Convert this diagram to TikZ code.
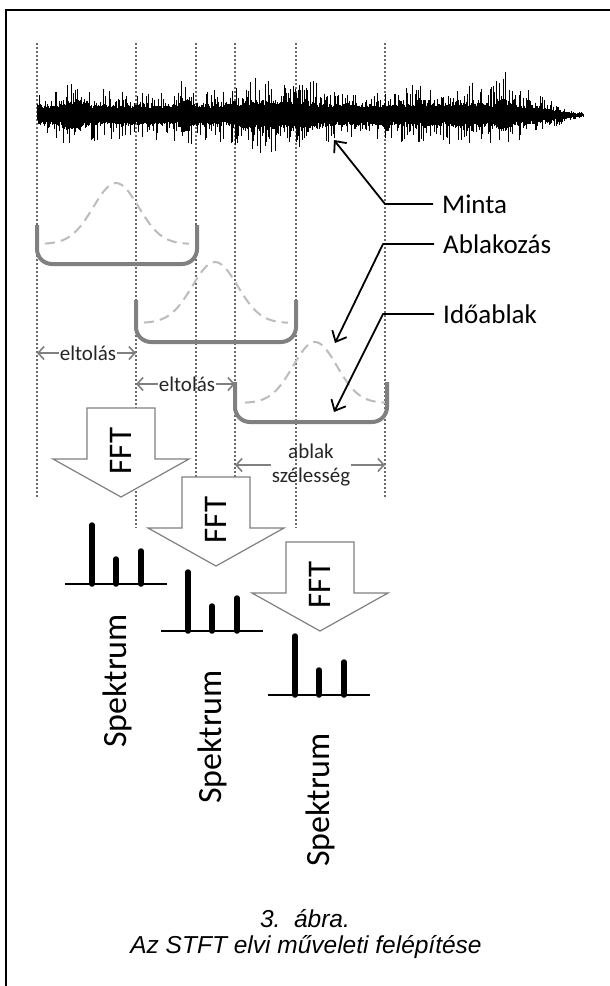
\documentclass[tikz,border=0pt]{standalone}
\usepackage{fontspec}
\setmainfont{Carlito}
\newfontfamily\capfont{Liberation Sans}
\usetikzlibrary{arrows.meta}
\definecolor{wingray}{RGB}{128,128,128}
\definecolor{gausgray}{RGB}{188,188,188}
\definecolor{vgray}{RGB}{105,105,105}
\begin{document}
\begin{tikzpicture}[x=1pt,y=-1pt,
  vline/.style={vgray,line width=2pt,dash pattern=on 2pt off 2pt},
  wavebar/.style={black,line width=1pt},
  winU/.style={wingray,line width=4pt,rounded corners=15pt},
  gauss/.style={gausgray,line width=2pt,dash pattern=on 10pt off 6pt},
  callout/.style={black,line width=1.8pt,line join=round,-{Straight Barb[length=9pt,width=16pt]}},
  shiftarrow/.style={wingray,line width=1.6pt,-{Straight Barb[length=6pt,width=13pt]}},
  fftline/.style={wingray,line width=1.2pt,fill=white},
  lbl/.style={font=\fontsize{27}{30}\selectfont,inner sep=0pt,anchor=west},
  smalltxt/.style={font=\fontsize{21}{24}\selectfont,text=black!85,inner sep=1pt},
  rottext/.style={rotate=90,font=\fontsize{33}{36}\selectfont,inner sep=0pt},
  spektxt/.style={rotate=90,font=\fontsize{34}{36}\selectfont,inner sep=0pt},
  captxt/.style={font={\capfont\itshape\fontsize{24.5}{28}\selectfont},inner sep=0pt},
  specbar/.style={black,line width=5.5pt,line cap=round},
  specbase/.style={black,line width=2.5pt},
  fftarrow/.pic={
    \draw[fftline] (-34,0) -- (34,0) -- (34,51) -- (68,51) -- (0,89) -- (-68,51) -- (-34,51) -- cycle;
    \node[rottext] (-lbl) at (0,43) {FFT};
  },
  spectrum/.pic={
    \draw[specbar] (27,0) -- (27,-59);
    \draw[specbar] (51,0) -- (51,-25);
    \draw[specbar] (76,0) -- (76,-33);
    \draw[specbase] (0,0) -- (102,0);
  }
]
\useasboundingbox (0,0) rectangle (610,986);
\fill[white] (0,0) rectangle (610,986);
% frame
\draw[line width=2pt] (6,986) -- (6,10) -- (610,10);

% dashed verticals
\draw[vline] (37,43) -- (37,497);
\draw[vline] (136,43) -- (136,528);
\draw[vline] (196,43) -- (196,530);
\draw[vline] (235,43) -- (235,530);
\draw[vline] (296,43) -- (296,528);
\draw[vline] (385,43) -- (385,497);

% waveform
\pgfmathsetseed{11}
\foreach \i in {0,...,910}{
  \pgfmathsetmacro\xx{37+0.6*\i}
  \pgfmathsetmacro\env{(0.85 + 0.5*exp(-((\xx-75)/10)^2) + 0.6*exp(-((\xx-186)/6)^2) + 0.4*exp(-((\xx-255)/22)^2) + 0.3*exp(-((\xx-300)/30)^2) + 0.2*exp(-((\xx-420)/20)^2) + 0.3*exp(-((\xx-470)/18)^2) + 0.6*exp(-((\xx-503)/7)^2))*min(1,max(0.2,(585-\xx)/55))*min(1,(\xx-35)/4)}
  \pgfmathsetmacro\up{\env*(7.5+4*rnd+20*rnd^5)}
  \pgfmathsetmacro\dn{\env*(7.5+4*rnd+20*rnd^5)}
  \draw[wavebar] (\xx,115-\up) -- (\xx,115+\dn);
}

% gaussian windows
\draw[gauss] plot[domain=45:189,samples=50,smooth] (\x,{244-61*exp(-((\x-116)/32)^2)});
\draw[gauss] plot[domain=144:288,samples=50,smooth] (\x,{323-61*exp(-((\x-215)/32)^2)});
\draw[gauss] plot[domain=245:385,samples=50,smooth] (\x,{403-61*exp(-((\x-315)/31)^2)});

% time windows
\draw[winU] (37,225) -- (37,264) -- (197,264) -- (197,225);
\draw[winU] (136,300) -- (136,342) -- (296,342) -- (296,300);
\draw[winU] (235,382) -- (235,422) -- (387,422) -- (387,382);

% shift arrows
\node[smalltxt] (elt1) at (88,353) {eltolás};
\coordinate (e1L) at (37,353);
\coordinate (e1R) at (136,353);
\draw[shiftarrow] (elt1.west) -- (e1L);
\draw[shiftarrow] (elt1.east) -- (e1R);
\node[smalltxt] (elt2) at (187,384) {eltolás};
\coordinate (e2L) at (136,384);
\coordinate (e2R) at (235,384);
\draw[shiftarrow] (elt2.west) -- (e2L);
\draw[shiftarrow] (elt2.east) -- (e2R);

% window width
\node[smalltxt,align=center,font=\fontsize{21}{24}\selectfont,inner sep=1pt] (ablak) at (311,465) {ablak\\szélesség};
\coordinate (awL) at (235,465);
\coordinate (awR) at (385,465);
\draw[shiftarrow] (ablak.west) -- (awL);
\draw[shiftarrow] (ablak.east) -- (awR);

% FFT arrows
\pic (fa) at (121,408) {fftarrow};
\pic (fb) at (216,477) {fftarrow};
\pic (fc) at (320,542) {fftarrow};

% spectra
\pic (sa) at (65,584) {spectrum};
\pic (sb) at (161,631) {spectrum};
\pic (sc) at (268,695) {spectrum};

\node[spektxt] (spa) at (117,681) {Spektrum};
\node[spektxt] (spb) at (212,737) {Spektrum};
\node[spektxt] (spc) at (320,800) {Spektrum};

% callouts
\node[lbl] (minta) at (442,204) {Minta};
\node[lbl] (ablakozas) at (443,244) {Ablakozás};
\node[lbl] (idoablak) at (443,314) {Időablak};
\coordinate (mintaBend) at (385,204);
\coordinate (mintaTip) at (334,140);
\coordinate (ablBend) at (383,244);
\coordinate (ablTip) at (335,343);
\coordinate (idoBend) at (383,314);
\coordinate (idoTip) at (334,412);
\draw[callout] ([xshift=-9pt]minta.west) -- (mintaBend) -- (mintaTip);
\draw[callout] ([xshift=-9pt]ablakozas.west) -- (ablBend) -- (ablTip);
\draw[callout] ([xshift=-9pt]idoablak.west) -- (idoBend) -- (idoTip);

% caption
\node[captxt] (cap1) at (305,919) {3.\ \ ábra.};
\node[captxt] (cap2) at (306,947) {Az STFT elvi műveleti felépítése};
\end{tikzpicture}
\end{document}
